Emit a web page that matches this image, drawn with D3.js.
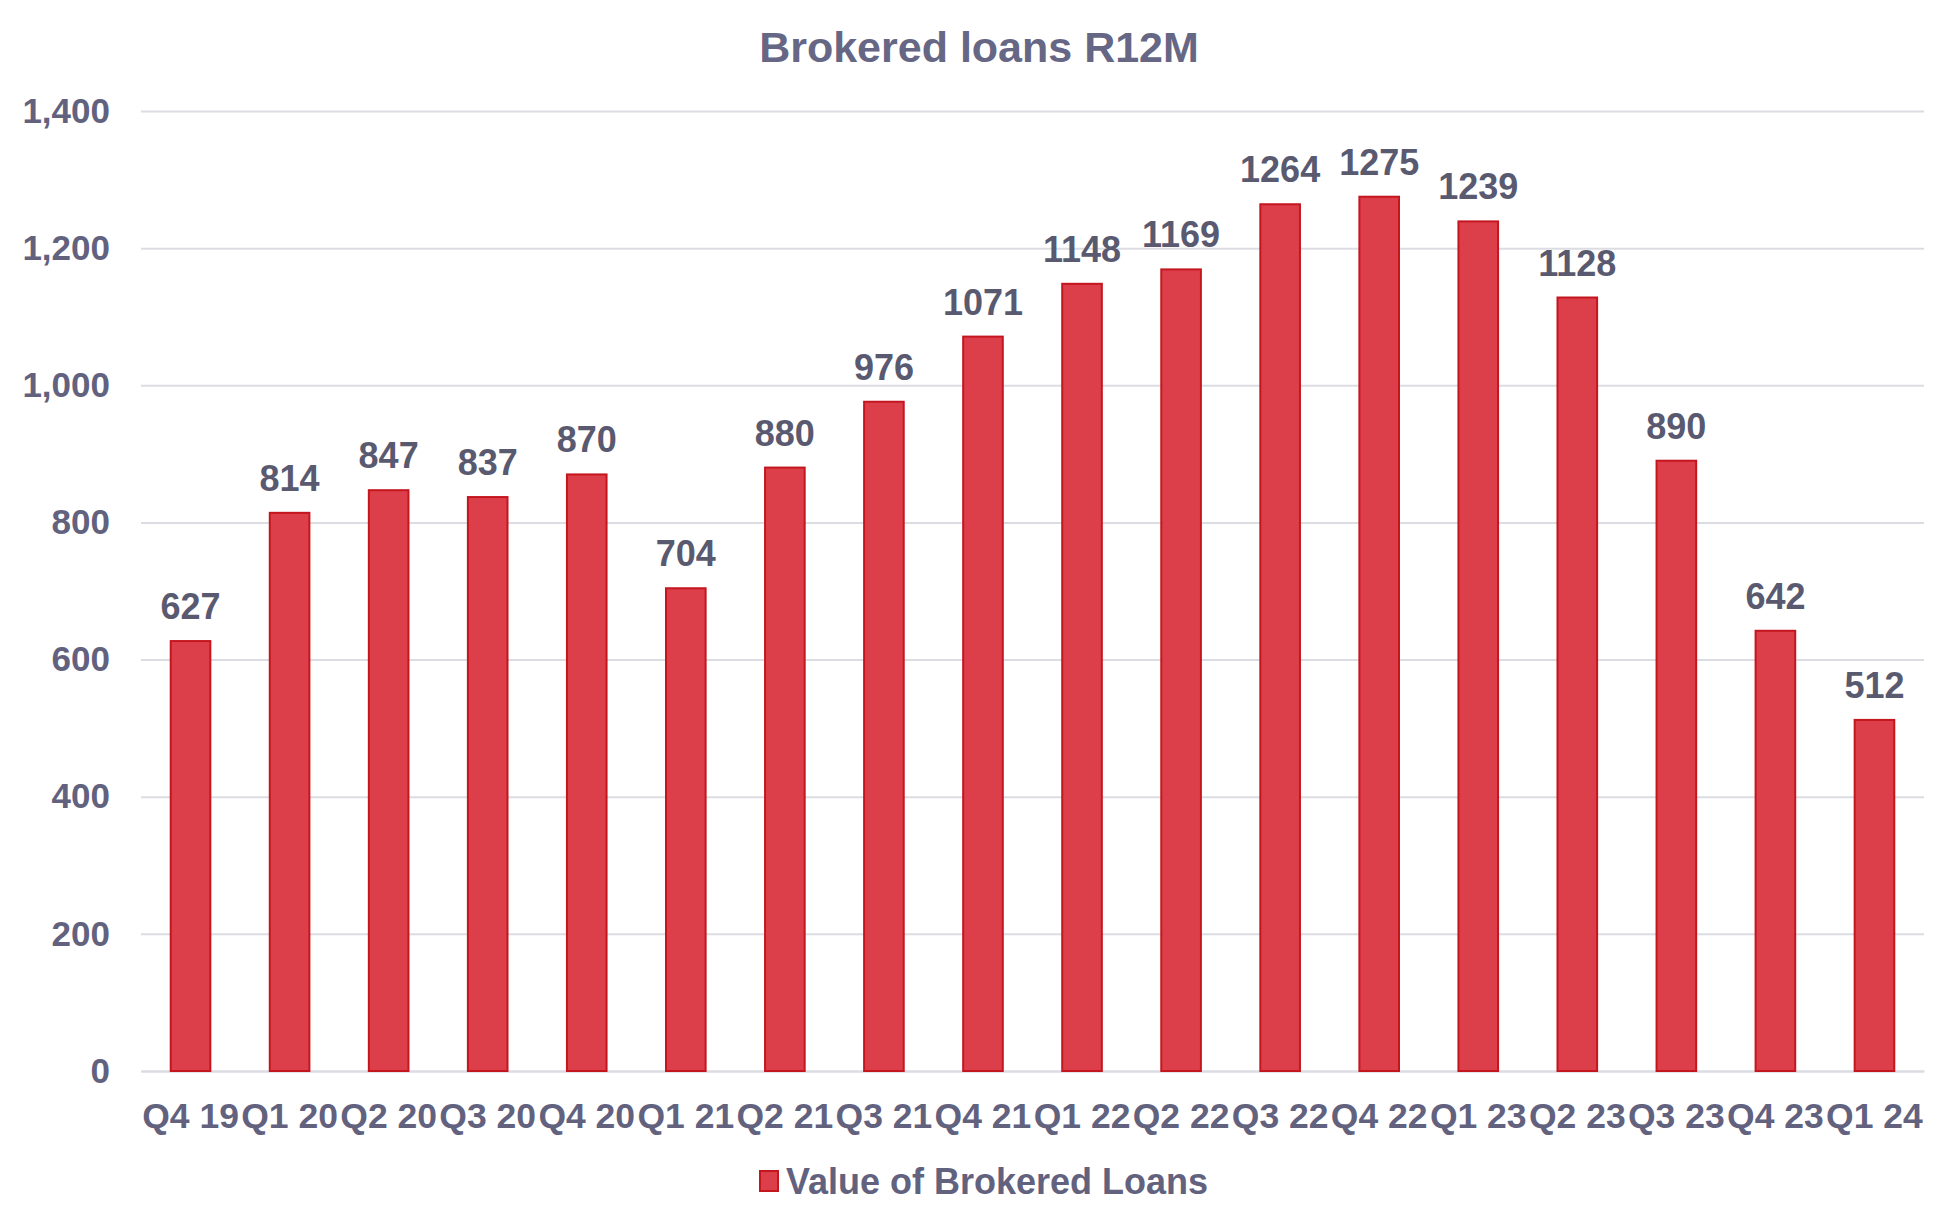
<!DOCTYPE html>
<html>
<head>
<meta charset="utf-8">
<script src="https://cdn.jsdelivr.net/npm/d3@7"></script>
<style>
  body { margin: 0; background: #fff; }
  text { font-family: "Liberation Sans", Arial, sans-serif; font-weight: bold; }
</style>
</head>
<body>
<div id="chart"></div>
<script>
const quarters = ["Q4 19", "Q1 20", "Q2 20", "Q3 20", "Q4 20", "Q1 21", "Q2 21", "Q3 21", "Q4 21",
  "Q1 22", "Q2 22", "Q3 22", "Q4 22", "Q1 23", "Q2 23", "Q3 23", "Q4 23", "Q1 24"]
const loanValues = [627, 814, 847, 837, 870, 704, 880, 976, 1071, 1148, 1169, 1264, 1275, 1239, 1128, 890, 642, 512]
const yTicks = [0, 200, 400, 600, 800, 1000, 1200, 1400]
const seriesName = "Value of Brokered Loans"
const chartTitle = "Brokered loans R12M"

const MARGIN = { TOP: 111, BOTTOM: 159, LEFT: 141, RIGHT: 29 }
const W = 1953, H = 1230
const WIDTH = W - MARGIN.LEFT - MARGIN.RIGHT
const HEIGHT = H - MARGIN.TOP - MARGIN.BOTTOM
const TEXT = "#62627f"
const FILL = "#dd3f4a"
const EDGE = "#c4161f"

const svg = d3.select("#chart").append("svg")
  .attr("width", W)
  .attr("height", H)

svg.append("text")
  .attr("x", 979)
  .attr("y", 62)
  .attr("text-anchor", "middle")
  .attr("font-size", "43px")
  .attr("fill", "#666685")
  .text(chartTitle)

const g = svg.append("g")
  .attr("transform", `translate(${MARGIN.LEFT}, ${MARGIN.TOP})`)

const x = d3.scaleBand()
  .domain(quarters)
  .range([0, WIDTH])
  .paddingInner(0.6)
  .paddingOuter(0.3)

const y = d3.scaleLinear()
  .domain([0, 1400])
  .range([HEIGHT, 0])

// gridlines + y labels
const yAxis = g.append("g")
  .call(d3.axisLeft(y).tickValues(yTicks).tickFormat(d3.format(",")).tickSize(-WIDTH).tickPadding(31))
yAxis.select(".domain").remove()
yAxis.selectAll(".tick line").attr("stroke", "#dcdce3").attr("stroke-width", 2)
yAxis.selectAll(".tick text")
  .attr("font-size", "35px")
  .attr("fill", TEXT)
  .attr("font-family", "'Liberation Sans', Arial, sans-serif")

// x labels
const xAxis = g.append("g")
  .attr("transform", `translate(0, ${HEIGHT})`)
  .call(d3.axisBottom(x).tickSize(0).tickPadding(32))
xAxis.select(".domain").attr("stroke", "#dcdce3").attr("stroke-width", 2)
xAxis.selectAll(".tick text")
  .attr("font-size", "35.5px")
  .attr("fill", TEXT)
  .attr("font-family", "'Liberation Sans', Arial, sans-serif")

// bars
g.selectAll("rect.bar")
  .data(loanValues)
  .enter().append("rect")
    .attr("class", "bar")
    .attr("x", (d, i) => x(quarters[i]))
    .attr("y", d => y(d))
    .attr("width", x.bandwidth())
    .attr("height", d => HEIGHT - y(d))
    .attr("fill", FILL)
    .attr("stroke", EDGE)
    .attr("stroke-width", 2)

// value labels
g.selectAll("text.val")
  .data(loanValues)
  .enter().append("text")
    .attr("class", "val")
    .attr("x", (d, i) => x(quarters[i]) + x.bandwidth() / 2)
    .attr("y", d => y(d) - 22)
    .attr("text-anchor", "middle")
    .attr("font-size", "36px")
    .attr("fill", "#595970")
    .text(d => d)

// legend
const legend = svg.append("g")
  .attr("transform", "translate(760, 1171)")
legend.append("rect")
  .attr("width", 18)
  .attr("height", 20)
  .attr("fill", FILL)
  .attr("stroke", EDGE)
  .attr("stroke-width", 2)
legend.append("text")
  .attr("x", 26)
  .attr("y", 10)
  .attr("dy", "0.35em")
  .attr("font-size", "36px")
  .attr("fill", TEXT)
  .text(seriesName)
</script>
</body>
</html>
